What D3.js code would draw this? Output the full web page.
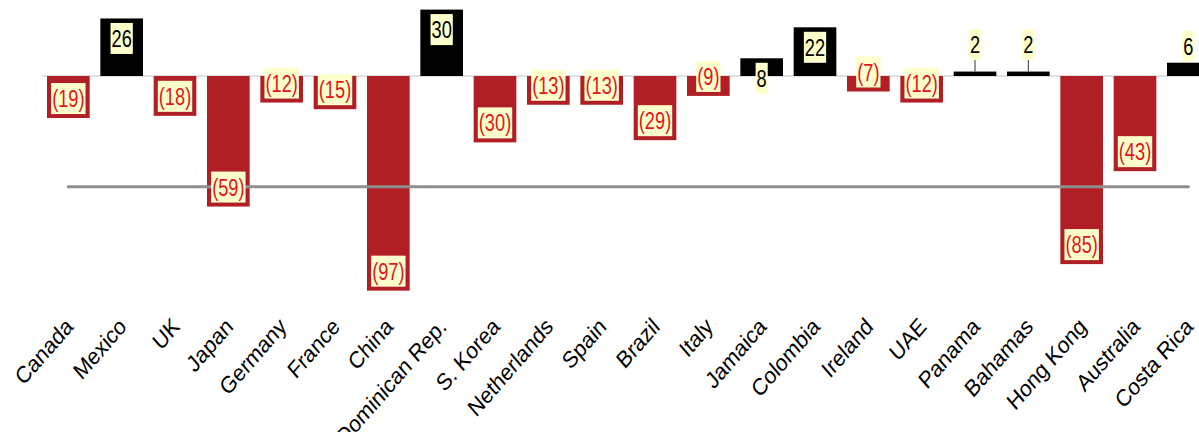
<!DOCTYPE html>
<html>
<head>
<meta charset="utf-8">
<script src="https://cdn.jsdelivr.net/npm/d3@7"></script>
<style>
  html, body { margin: 0; padding: 0; background: #fff; }
  svg { display: block; }
  text { font-family: "Liberation Sans", Arial, sans-serif; }
</style>
</head>
<body>
<svg id="chart" width="1199" height="432"></svg>
<script>
const categories = ["Canada", "Mexico", "UK", "Japan", "Germany", "France", "China", "Dominican Rep.",
  "S. Korea", "Netherlands", "Spain", "Brazil", "Italy", "Jamaica", "Colombia", "Ireland", "UAE",
  "Panama", "Bahamas", "Hong Kong", "Australia", "Costa Rica"];
const values = [-19, 26, -18, -59, -12, -15, -97, 30, -30, -13, -13, -29, -9, 8, 22, -7, -12, 2, 2, -85, -43, 6];
const referenceValue = -50;

const svg = d3.select("#chart");

const x = d3.scaleBand().domain(categories).range([41.67, 1215]).paddingInner(0.2).paddingOuter(0.1);
const y = d3.scaleLinear().domain([-100, 30]).range([297.3, 9.6]);

const data = categories.map((c, i) => ({ c, v: values[i] }));

// zero line
svg.append("line")
  .attr("x1", x.range()[0]).attr("x2", x.range()[1])
  .attr("y1", y(0)).attr("y2", y(0))
  .attr("stroke", "#c4c4c4").attr("stroke-width", 1.2);

// bars
svg.append("g").selectAll("rect").data(data).join("rect")
  .attr("x", d => x(d.c))
  .attr("width", x.bandwidth())
  .attr("y", d => Math.min(y(d.v), y(0)))
  .attr("height", d => Math.abs(y(d.v) - y(0)))
  .attr("fill", d => d.v < 0 ? "#b01f26" : "#000000");

// reference line
svg.append("line")
  .attr("x1", x(categories[0]) + x.bandwidth() / 2)
  .attr("x2", x(categories[categories.length - 1]) + x.bandwidth() / 2)
  .attr("y1", y(referenceValue)).attr("y2", y(referenceValue))
  .attr("stroke", "#8e8e8e").attr("stroke-width", 3).attr("stroke-linecap", "round");

// labels
const fs = 24, sx = 0.76, boxH = 31;
const lg = svg.append("g");
data.forEach(d => {
  const cx = x(d.c) + x.bandwidth() / 2;
  let top, leader = null;
  if (d.v < 0) {
    top = y(d.v) - 4 - boxH;
  } else if (d.v >= 7) {
    top = y(d.v) + 4.5;
  } else if (d.v <= 2) {
    top = y(d.v) - 11.5 - boxH;
    leader = [top + boxH, y(d.v)];
  } else {
    top = y(d.v) - 1 - boxH;
  }
  const txt = d.v < 0 ? "(" + Math.abs(d.v) + ")" : String(d.v);
  const g = lg.append("g");
  const rect = g.append("rect");
  const t = g.append("text")
    .attr("text-anchor", "middle")
    .attr("font-size", fs)
    .attr("fill", d.v < 0 ? "#e3141c" : "#000")
    .attr("transform", `translate(${cx},${top + boxH / 2 + fs * 0.358}) scale(${sx},1)`)
    .text(txt);
  const w = t.node().getComputedTextLength() * sx + 2;
  rect.attr("x", cx - w / 2).attr("y", top).attr("width", w).attr("height", boxH)
    .attr("fill", "#ffffcc");
  if (leader) {
    g.append("line").attr("x1", cx).attr("x2", cx)
      .attr("y1", leader[0]).attr("y2", leader[1])
      .attr("stroke", "#333").attr("stroke-width", 1);
  }
});

// x axis labels
const axis = svg.append("g")
  .attr("transform", `translate(0,328)`)
  .call(d3.axisBottom(x).tickSize(0));
axis.select(".domain").remove();
axis.selectAll("text")
  .attr("y", 0).attr("dy", 0)
  .attr("font-size", 20.5)
  .attr("font-family", "Liberation Sans, Arial, sans-serif")
  .attr("fill", "#000")
  .style("text-anchor", "end")
  .attr("transform", "translate(6,0) scale(1,1.15) rotate(-45)");
</script>
</body>
</html>
